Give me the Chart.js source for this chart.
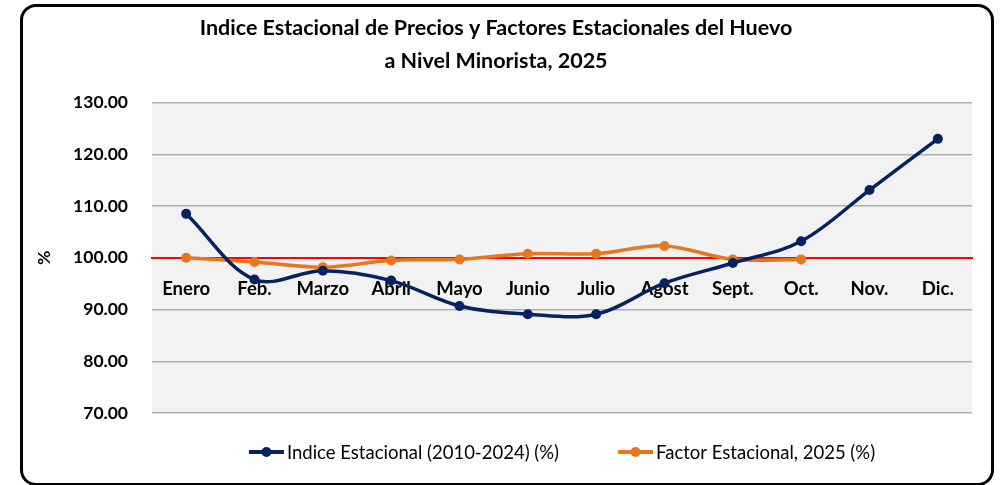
<!DOCTYPE html>
<html>
<head>
<meta charset="utf-8">
<script src="https://cdn.jsdelivr.net/npm/chart.js@4"></script>
<style>
  body { margin: 0; background: #fff; }
  #frame {
    position: absolute; left: 20px; top: 4px; width: 974px; height: 482px;
    box-sizing: border-box; border: 3px solid #000; border-radius: 16px;
  }
  #chart { position: absolute; left: 0; top: 0; }
</style>
</head>
<body>
<div id="frame"></div>
<canvas id="chart" width="1005" height="485"></canvas>
<script>
const months = ['Enero', 'Feb.', 'Marzo', 'Abril', 'Mayo', 'Junio', 'Julio', 'Agost', 'Sept.', 'Oct.', 'Nov.', 'Dic.'];
const indiceEstacional = [108.5, 95.8, 97.5, 95.6, 90.7, 89.1, 89.1, 95.1, 99.0, 103.2, 113.1, 123.0];
const factorEstacional = [100.0, 99.2, 98.2, 99.5, 99.7, 100.8, 100.8, 102.3, 99.7, 99.7, null, null];
const yMin = 70;
const yMax = 130;
const yStep = 10;
const baseLine = 100;

const titleLines = ['Indice Estacional de Precios y Factores Estacionales del Huevo', 'a Nivel Minorista, 2025'];
const seriesNames = ['Indice Estacional (2010-2024) (%)', 'Factor Estacional, 2025 (%)'];

const FONT = 'Lato, "Noto Sans", sans-serif';

// gray plot background
const plotBg = {
  id: 'plotBg',
  beforeDraw(chart) {
    const { ctx, chartArea: a } = chart;
    ctx.save();
    ctx.fillStyle = '#f2f2f2';
    ctx.fillRect(a.left, a.top, a.right - a.left, a.bottom - a.top);
    ctx.restore();
  }
};

// legend with a line + dot sample, like Excel
const lineLegend = {
  id: 'lineLegend',
  afterDraw(chart) {
    const { ctx, chartArea: a } = chart;
    const y = 452;
    const sample = 35, gap = 3, between = 59;
    ctx.save();
    ctx.font = '18.5px ' + FONT;
    ctx.textBaseline = 'middle';
    const sets = chart.data.datasets;
    const widths = sets.map(d => ctx.measureText(d.label).width);
    let total = 0;
    widths.forEach((w, i) => { total += sample + gap + w + (i ? between : 0); });
    let x = (a.left + a.right) / 2 - total / 2;
    sets.forEach((d, i) => {
      ctx.strokeStyle = d.borderColor;
      ctx.lineWidth = 4;
      ctx.beginPath();
      ctx.moveTo(x, y);
      ctx.lineTo(x + sample, y);
      ctx.stroke();
      ctx.fillStyle = d.borderColor;
      ctx.beginPath();
      ctx.arc(x + sample / 2, y, 5, 0, Math.PI * 2);
      ctx.fill();
      ctx.fillStyle = '#000';
      ctx.fillText(d.label, x + sample + gap, y + 1);
      x += sample + gap + widths[i] + between;
    });
    ctx.restore();
  }
};

new Chart(document.getElementById('chart'), {
  type: 'line',
  data: {
    labels: months,
    datasets: [
      {
        label: seriesNames[0],
        data: indiceEstacional,
        borderColor: '#062260',
        backgroundColor: '#062260',
        borderWidth: 3.5,
        pointRadius: 5,
        pointBorderWidth: 0,
        pointHoverRadius: 5,
        tension: 0.35
      },
      {
        label: seriesNames[1],
        data: factorEstacional,
        borderColor: '#e8761c',
        backgroundColor: '#e8761c',
        borderWidth: 3.5,
        pointRadius: 5,
        pointBorderWidth: 0,
        pointHoverRadius: 5,
        tension: 0.35,
        spanGaps: false
      }
    ]
  },
  options: {
    responsive: false,
    animation: false,
    layout: { padding: { left: 20, right: 33, top: 0, bottom: 72 } },
    plugins: {
      legend: { display: false },
      tooltip: { enabled: false },
      title: {
        display: true,
        text: titleLines,
        color: '#000',
        font: { family: FONT, size: 21.5, weight: 'bold', lineHeight: 1.55 },
        padding: { top: 11, bottom: 25 }
      }
    },
    scales: {
      x: {
        position: { y: baseLine },
        offset: true,
        grid: { display: false, drawTicks: false },
        border: { display: true, color: '#ff0000', width: 2 },
        ticks: {
          color: '#000',
          padding: 20,
          maxRotation: 0,
          font: { family: FONT, size: 18.5, weight: 'bold' }
        }
      },
      y: {
        min: yMin,
        max: yMax,
        afterFit(scale) { scale.width = 132; },
        grid: { color: '#b0b0b0', lineWidth: 1.5, drawTicks: false },
        border: { display: false },
        ticks: {
          stepSize: yStep,
          color: '#000',
          padding: 24,
          font: { family: FONT, size: 17.5, weight: 'bold' },
          callback: v => v.toFixed(2)
        },
        title: {
          display: true,
          text: '%',
          color: '#000',
          padding: { top: 14, bottom: 0 },
          font: { family: FONT, size: 17.5, weight: 'bold' }
        }
      }
    }
  },
  plugins: [plotBg, lineLegend]
});
</script>
</body>
</html>
